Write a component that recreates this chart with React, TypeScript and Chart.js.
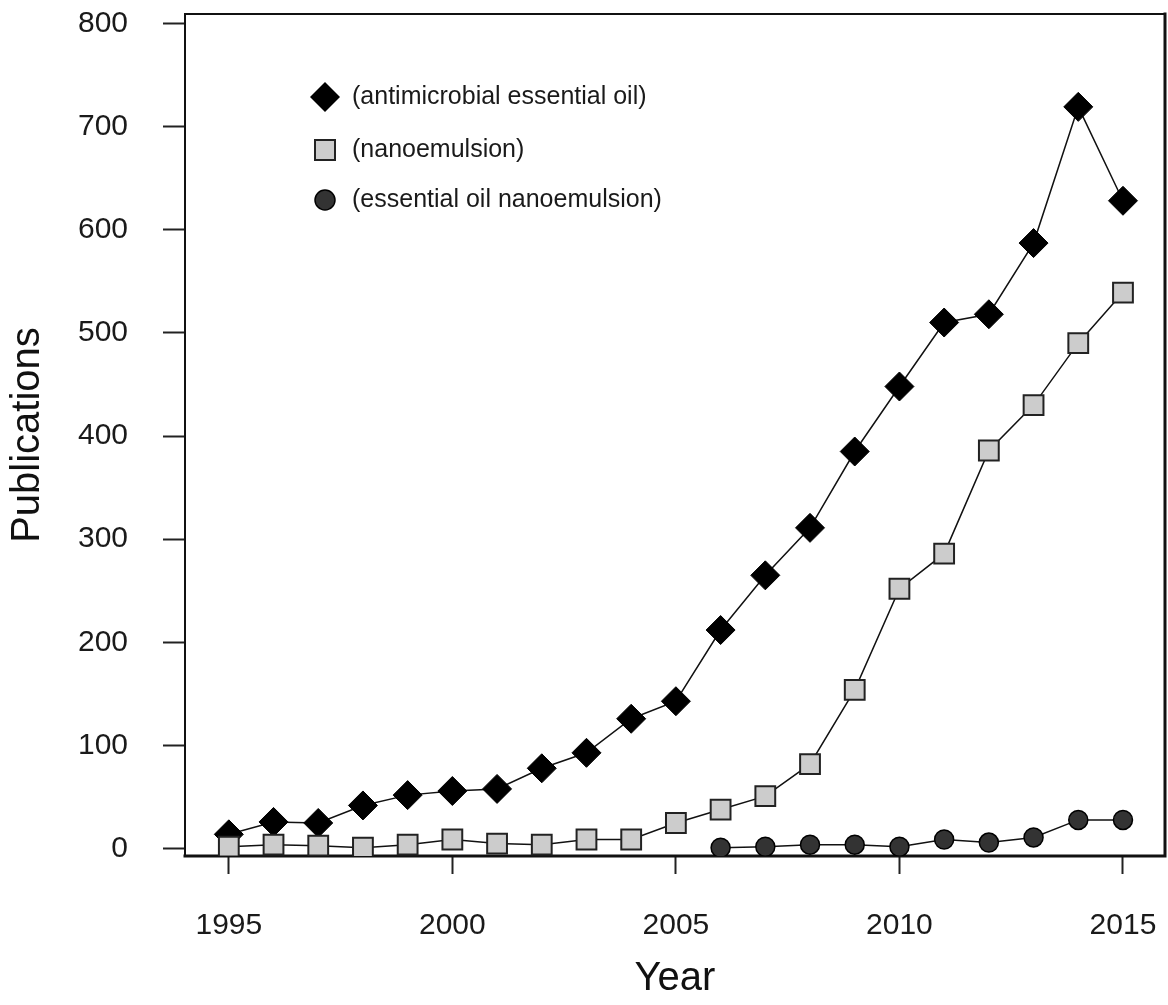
import React, { useEffect, useRef } from "react";
import { Chart, registerables } from "chart.js";

Chart.register(...registerables);

const years = [1995, 1996, 1997, 1998, 1999, 2000, 2001, 2002, 2003, 2004, 2005, 2006, 2007, 2008, 2009, 2010, 2011, 2012, 2013, 2014, 2015];
const antimicrobialOil = [14, 26, 25, 42, 52, 56, 58, 78, 93, 126, 143, 212, 265, 311, 385, 448, 510, 518, 587, 719, 628];
const nanoemulsion = [2, 4, 3, 1, 4, 9, 5, 4, 9, 9, 25, 38, 51, 82, 154, 252, 286, 386, 430, 490, 539];
const oilNanoYears = [2006, 2007, 2008, 2009, 2010, 2011, 2012, 2013, 2014, 2015];
const oilNanoemulsion = [1, 2, 4, 4, 2, 9, 6, 11, 28, 28];

const xTicks = [1995, 2000, 2005, 2010, 2015];
const yTicks = [0, 100, 200, 300, 400, 500, 600, 700, 800];
const legendLabels = ["(antimicrobial essential oil)", "(nanoemulsion)", "(essential oil nanoemulsion)"];

const FONT = "'Liberation Sans', Arial, Helvetica, sans-serif";

const framePlugin = {
  id: "frame",
  beforeDatasetsDraw(chart: any) {
    const { ctx, chartArea } = chart;
    const { left, right, top, bottom } = chartArea;
    ctx.save();
    ctx.strokeStyle = "#111";
    ctx.lineCap = "square";
    ctx.lineWidth = 2;
    ctx.beginPath();
    ctx.moveTo(left, bottom);
    ctx.lineTo(left, top);
    ctx.lineTo(right, top);
    ctx.stroke();
    ctx.lineWidth = 3;
    ctx.beginPath();
    ctx.moveTo(right, top);
    ctx.lineTo(right, bottom);
    ctx.lineTo(left, bottom);
    ctx.stroke();
    ctx.restore();
  },
};

const legendPlugin = {
  id: "innerLegend",
  afterDraw(chart: any) {
    const { ctx, chartArea } = chart;
    const mx = chartArea.left + 140;
    const tx = chartArea.left + 167;
    const rows = [chartArea.top + 83, chartArea.top + 136, chartArea.top + 186];
    ctx.save();
    ctx.fillStyle = "#000";
    ctx.beginPath();
    ctx.moveTo(mx, rows[0] - 15);
    ctx.lineTo(mx + 15, rows[0]);
    ctx.lineTo(mx, rows[0] + 15);
    ctx.lineTo(mx - 15, rows[0]);
    ctx.closePath();
    ctx.fill();
    ctx.fillStyle = "#cccccc";
    ctx.strokeStyle = "#222";
    ctx.lineWidth = 2;
    ctx.fillRect(mx - 10, rows[1] - 10, 20, 20);
    ctx.strokeRect(mx - 10, rows[1] - 10, 20, 20);
    ctx.fillStyle = "#333";
    ctx.strokeStyle = "#000";
    ctx.lineWidth = 1.5;
    ctx.beginPath();
    ctx.arc(mx, rows[2], 10, 0, Math.PI * 2);
    ctx.fill();
    ctx.stroke();
    ctx.fillStyle = "#1a1a1a";
    ctx.font = `25px ${FONT}`;
    ctx.textAlign = "left";
    ctx.textBaseline = "middle";
    legendLabels.forEach((t, i) => ctx.fillText(t, tx, rows[i]));
    ctx.restore();
  },
};

function zeroPad(scale: any) {
  scale.paddingTop = 0;
  scale.paddingBottom = 0;
  scale.paddingLeft = 0;
  scale.paddingRight = 0;
}

export default function App() {
  const ref = useRef<HTMLCanvasElement | null>(null);

  useEffect(() => {
    if (!ref.current) return;
    const chart = new Chart(ref.current, {
      type: "line",
      data: {
        datasets: [
          {
            label: legendLabels[0],
            data: years.map((y, i) => ({ x: y, y: antimicrobialOil[i] })),
            borderColor: "#111",
            borderWidth: 1.5,
            pointStyle: "rectRot",
            pointRadius: 14.5,
            pointBackgroundColor: "#000",
            pointBorderColor: "#000",
            pointBorderWidth: 1,
            tension: 0,
            order: 2,
          },
          {
            label: legendLabels[1],
            data: years.map((y, i) => ({ x: y, y: nanoemulsion[i] })),
            borderColor: "#111",
            borderWidth: 1.5,
            pointStyle: "rect",
            pointRadius: 14,
            pointBackgroundColor: "#cccccc",
            pointBorderColor: "#222",
            pointBorderWidth: 2,
            tension: 0,
            order: 1,
          },
          {
            label: legendLabels[2],
            data: oilNanoYears.map((y, i) => ({ x: y, y: oilNanoemulsion[i] })),
            borderColor: "#111",
            borderWidth: 1.5,
            pointStyle: "circle",
            pointRadius: 9.5,
            pointBackgroundColor: "#333",
            pointBorderColor: "#000",
            pointBorderWidth: 1.5,
            tension: 0,
            order: 0,
          },
        ],
      },
      options: {
        animation: false,
        responsive: false,
        devicePixelRatio: 1,
        layout: { autoPadding: false, padding: { left: 0, right: 3, top: 14, bottom: 0 } },
        plugins: {
          legend: { display: false },
          tooltip: { enabled: false },
          title: { display: false },
        },
        scales: {
          x: {
            type: "linear",
            min: 1994.02,
            max: 2015.94,
            afterBuildTicks: (scale: any) => {
              scale.ticks = xTicks.map((v) => ({ value: v }));
            },
            afterFit: (scale: any) => {
              scale.height = 149;
              zeroPad(scale);
            },
            ticks: {
              callback: (v: any) => String(v),
              font: { family: FONT, size: 30 },
              color: "#1a1a1a",
              padding: 34,
              maxRotation: 0,
            },
            grid: {
              drawOnChartArea: false,
              drawTicks: true,
              tickLength: 18,
              tickWidth: 2,
              tickColor: "#222",
            },
            border: { display: false },
            title: {
              display: true,
              text: "Year",
              font: { family: FONT, size: 40 },
              color: "#111",
              padding: { top: 0, bottom: 2 },
            },
          },
          y: {
            type: "linear",
            min: -7,
            max: 809,
            afterBuildTicks: (scale: any) => {
              scale.ticks = yTicks.map((v) => ({ value: v }));
            },
            afterFit: (scale: any) => {
              scale.width = 185;
              zeroPad(scale);
            },
            ticks: {
              callback: (v: any) => String(v),
              font: { family: FONT, size: 30 },
              color: "#1a1a1a",
              padding: 35,
            },
            grid: {
              drawOnChartArea: false,
              drawTicks: true,
              tickLength: 22,
              tickWidth: 2,
              tickColor: "#222",
            },
            border: { display: false },
            title: {
              display: true,
              text: "Publications",
              font: { family: FONT, size: 40 },
              color: "#111",
              padding: { top: 4, bottom: 0 },
            },
          },
        },
      },
      plugins: [framePlugin, legendPlugin],
    });
    return () => chart.destroy();
  }, []);

  return (
    <div style={{ position: "absolute", left: 0, top: 0, width: 1168, height: 1005, background: "#fff" }}>
      <canvas ref={ref} width={1168} height={1005} style={{ display: "block", width: 1168, height: 1005 }} />
    </div>
  );
}
